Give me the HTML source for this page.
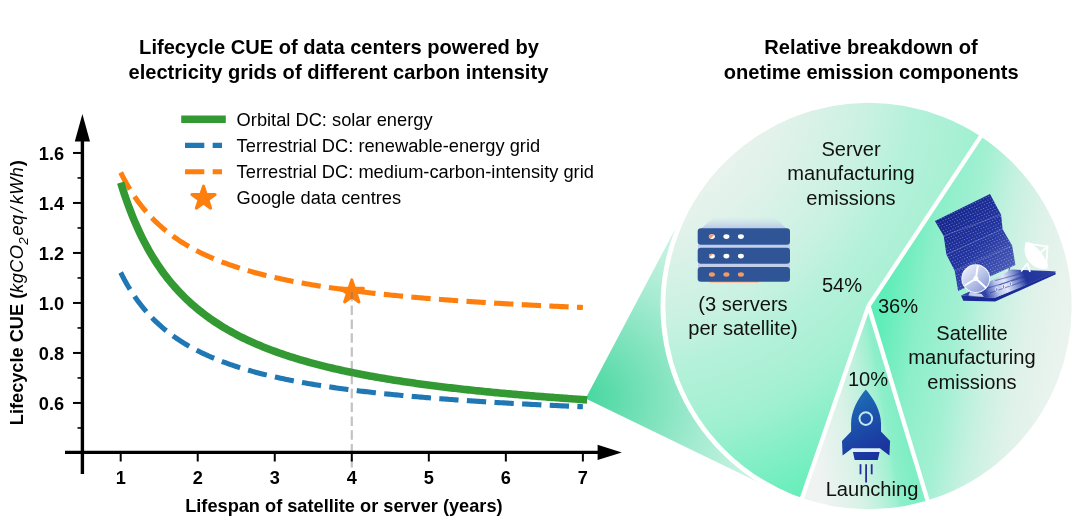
<!DOCTYPE html>
<html><head><meta charset="utf-8">
<style>
html,body{margin:0;padding:0;background:#fff;}
body{width:1080px;height:522px;overflow:hidden;}
svg{display:block;will-change:transform;}
text{font-family:"Liberation Sans",sans-serif;fill:#000;}
.tk{font-size:18.2px;font-weight:bold;}
.ttl{font-size:20.1px;font-weight:bold;}
.lg{font-size:18.27px;}
.pl{font-size:20.1px;fill:#111;}
</style></head><body>
<svg width="1080" height="522" viewBox="0 0 1080 522">
<defs>
<radialGradient id="gServer" gradientUnits="userSpaceOnUse" cx="620" cy="75" r="480">
<stop offset="0.208" stop-color="#f0f3f1"/><stop offset="0.352" stop-color="#e1f2eb"/><stop offset="0.525" stop-color="#c9f1e2"/><stop offset="0.615" stop-color="#b5f1da"/><stop offset="0.72" stop-color="#a7f0d4"/><stop offset="0.7625" stop-color="#9ef0d1"/><stop offset="0.94" stop-color="#6aeebc"/><stop offset="1" stop-color="#5eedb8"/></radialGradient>
<linearGradient id="gSat" gradientUnits="userSpaceOnUse" x1="868.5" y1="306" x2="1071" y2="341.8">
<stop offset="0" stop-color="#5aedb7"/><stop offset="0.08" stop-color="#61edb9"/><stop offset="0.25" stop-color="#8befc9"/><stop offset="0.44" stop-color="#a3f0d3"/><stop offset="0.6" stop-color="#c6f1e1"/><stop offset="0.77" stop-color="#dff2ea"/><stop offset="0.92" stop-color="#e8f3ee"/><stop offset="1" stop-color="#edf3f0"/></linearGradient>
<linearGradient id="gLaunch" gradientUnits="userSpaceOnUse" x1="915" y1="495" x2="801.8" y2="515.4">
<stop offset="0" stop-color="#80eec5"/><stop offset="0.13" stop-color="#8defca"/><stop offset="0.175" stop-color="#9ff0d1"/><stop offset="0.305" stop-color="#bdf1dd"/><stop offset="0.48" stop-color="#d9f2e8"/><stop offset="0.78" stop-color="#eff3f1"/><stop offset="1" stop-color="#f1f3f1"/></linearGradient>
<radialGradient id="gCone" gradientUnits="userSpaceOnUse" cx="585.6" cy="398.6" r="236">
<stop offset="0" stop-color="#47d79f"/><stop offset="0.5" stop-color="#a4ebd1"/><stop offset="1" stop-color="#eef9f4"/></radialGradient>
<linearGradient id="gRocket" gradientUnits="userSpaceOnUse" x1="850" y1="395" x2="885" y2="460">
<stop offset="0" stop-color="#1d70b6"/><stop offset="0.5" stop-color="#1b4ba8"/><stop offset="1" stop-color="#1b2a9c"/></linearGradient>
</defs>
<rect width="1080" height="522" fill="#fff"/>

<!-- cone -->
<polygon points="585.6,398.6 684.9,210.7 778.5,492.1" fill="url(#gCone)"/>

<!-- pie -->
<path d="M868.50,306.00 L981.98,134.55 A205.60,205.60 0 1 0 801.22,500.28 Z" fill="url(#gServer)"/>
<path d="M868.50,306.00 L928.27,502.72 A205.60,205.60 0 0 0 981.98,134.55 Z" fill="url(#gSat)"/>
<path d="M868.50,306.00 L801.22,500.28 A205.60,205.60 0 0 0 928.27,502.72 Z" fill="url(#gLaunch)"/>
<g stroke="#fff" stroke-width="4.3" stroke-linecap="butt">
<line x1="868.5" y1="306.0" x2="983.08" y2="132.89"/>
<line x1="868.5" y1="306.0" x2="800.57" y2="502.17"/>
<line x1="868.5" y1="306.0" x2="928.85" y2="504.63"/>
</g>
<circle cx="868.5" cy="306.0" r="205.6" fill="none" stroke="#fff" stroke-width="4.8"/>

<!-- titles -->
<text x="339" y="54.4" text-anchor="middle" class="ttl">Lifecycle CUE of data centers powered by</text>
<text x="338.4" y="78.7" text-anchor="middle" class="ttl">electricity grids of different carbon intensity</text>
<text x="871" y="54.4" text-anchor="middle" class="ttl">Relative breakdown of</text>
<text x="871.2" y="78.8" text-anchor="middle" class="ttl">onetime emission components</text>

<!-- dashed guide -->
<!-- curves -->
<path d="M120.70,272.50 L122.63,276.32 L124.55,279.96 L126.48,283.43 L128.40,286.74 L130.33,289.90 L132.25,292.93 L134.18,295.83 L136.11,298.60 L138.03,301.27 L139.96,303.83 L141.88,306.28 L143.81,308.64 L145.73,310.92 L147.66,313.11 L149.59,315.22 L151.51,317.25 L153.44,319.21 L155.36,321.11 L157.29,322.94 L159.22,324.71 L161.14,326.42 L163.07,328.08 L164.99,329.68 L166.92,331.23 L168.84,332.74 L170.77,334.20 L172.70,335.62 L174.62,336.99 L176.55,338.33 L178.47,339.62 L180.40,340.89 L182.32,342.11 L184.25,343.30 L186.18,344.46 L188.10,345.59 L190.03,346.69 L191.95,347.76 L193.88,348.80 L195.80,349.82 L197.73,350.81 L199.66,351.78 L201.58,352.72 L203.51,353.64 L205.43,354.54 L207.36,355.42 L209.28,356.28 L211.21,357.11 L213.14,357.93 L215.06,358.73 L216.99,359.51 L218.91,360.28 L220.84,361.03 L222.76,361.76 L224.69,362.48 L226.62,363.18 L228.54,363.86 L230.47,364.54 L232.39,365.20 L234.32,365.84 L236.25,366.48 L238.17,367.10 L240.10,367.70 L242.02,368.30 L243.95,368.88 L245.87,369.46 L247.80,370.02 L249.73,370.57 L251.65,371.12 L253.58,371.65 L255.50,372.17 L257.43,372.68 L259.35,373.19 L261.28,373.68 L263.21,374.17 L265.13,374.65 L267.06,375.12 L268.98,375.58 L270.91,376.03 L272.83,376.48 L274.76,376.92 L276.69,377.35 L278.61,377.77 L280.54,378.19 L282.46,378.60 L284.39,379.00 L286.31,379.40 L288.24,379.79 L290.17,380.18 L292.09,380.56 L294.02,380.93 L295.94,381.30 L297.87,381.66 L299.79,382.02 L301.72,382.37 L303.65,382.72 L305.57,383.06 L307.50,383.40 L309.42,383.73 L311.35,384.05 L313.27,384.38 L315.20,384.69 L317.13,385.01 L319.05,385.31 L320.98,385.62 L322.90,385.92 L324.83,386.21 L326.76,386.51 L328.68,386.79 L330.61,387.08 L332.53,387.36 L334.46,387.63 L336.38,387.91 L338.31,388.18 L340.24,388.44 L342.16,388.71 L344.09,388.96 L346.01,389.22 L347.94,389.47 L349.86,389.72 L351.79,389.97 L353.72,390.21 L355.64,390.45 L357.57,390.69 L359.49,390.92 L361.42,391.16 L363.34,391.38 L365.27,391.61 L367.20,391.83 L369.12,392.05 L371.05,392.27 L372.97,392.49 L374.90,392.70 L376.82,392.91 L378.75,393.12 L380.68,393.33 L382.60,393.53 L384.53,393.73 L386.45,393.93 L388.38,394.12 L390.31,394.32 L392.23,394.51 L394.16,394.70 L396.08,394.89 L398.01,395.08 L399.93,395.26 L401.86,395.44 L403.79,395.62 L405.71,395.80 L407.64,395.98 L409.56,396.15 L411.49,396.32 L413.41,396.49 L415.34,396.66 L417.27,396.83 L419.19,397.00 L421.12,397.16 L423.04,397.32 L424.97,397.48 L426.89,397.64 L428.82,397.80 L430.75,397.96 L432.67,398.11 L434.60,398.26 L436.52,398.41 L438.45,398.56 L440.37,398.71 L442.30,398.86 L444.23,399.00 L446.15,399.15 L448.08,399.29 L450.00,399.43 L451.93,399.57 L453.85,399.71 L455.78,399.85 L457.71,399.99 L459.63,400.12 L461.56,400.25 L463.48,400.39 L465.41,400.52 L467.33,400.65 L469.26,400.78 L471.19,400.90 L473.11,401.03 L475.04,401.16 L476.96,401.28 L478.89,401.40 L480.82,401.53 L482.74,401.65 L484.67,401.77 L486.59,401.89 L488.52,402.00 L490.44,402.12 L492.37,402.24 L494.30,402.35 L496.22,402.47 L498.15,402.58 L500.07,402.69 L502.00,402.80 L503.92,402.91 L505.85,403.02 L507.78,403.13 L509.70,403.24 L511.63,403.34 L513.55,403.45 L515.48,403.55 L517.40,403.66 L519.33,403.76 L521.26,403.86 L523.18,403.96 L525.11,404.07 L527.03,404.16 L528.96,404.26 L530.88,404.36 L532.81,404.46 L534.74,404.56 L536.66,404.65 L538.59,404.75 L540.51,404.84 L542.44,404.94 L544.37,405.03 L546.29,405.12 L548.22,405.21 L550.14,405.30 L552.07,405.39 L553.99,405.48 L555.92,405.57 L557.85,405.66 L559.77,405.75 L561.70,405.84 L563.62,405.92 L565.55,406.01 L567.47,406.09 L569.40,406.18 L571.33,406.26 L573.25,406.34 L575.18,406.43 L577.10,406.51 L579.03,406.59 L580.95,406.67 L582.88,406.75" fill="none" stroke="#1f77b4" stroke-width="5.1" stroke-dasharray="19.3,8.36"/>
<path d="M120.70,172.50 L122.63,176.34 L124.55,180.00 L126.48,183.49 L128.40,186.82 L130.33,190.00 L132.25,193.04 L134.18,195.96 L136.11,198.75 L138.03,201.43 L139.96,204.00 L141.88,206.47 L143.81,208.85 L145.73,211.13 L147.66,213.33 L149.59,215.45 L151.51,217.50 L153.44,219.47 L155.36,221.38 L157.29,223.22 L159.22,225.00 L161.14,226.72 L163.07,228.39 L164.99,230.00 L166.92,231.56 L168.84,233.08 L170.77,234.55 L172.70,235.97 L174.62,237.35 L176.55,238.70 L178.47,240.00 L180.40,241.27 L182.32,242.50 L184.25,243.70 L186.18,244.86 L188.10,246.00 L190.03,247.11 L191.95,248.18 L193.88,249.23 L195.80,250.25 L197.73,251.25 L199.66,252.22 L201.58,253.17 L203.51,254.10 L205.43,255.00 L207.36,255.88 L209.28,256.74 L211.21,257.59 L213.14,258.41 L215.06,259.21 L216.99,260.00 L218.91,260.77 L220.84,261.52 L222.76,262.26 L224.69,262.98 L226.62,263.68 L228.54,264.38 L230.47,265.05 L232.39,265.71 L234.32,266.36 L236.25,267.00 L238.17,267.62 L240.10,268.24 L242.02,268.83 L243.95,269.42 L245.87,270.00 L247.80,270.57 L249.73,271.12 L251.65,271.67 L253.58,272.20 L255.50,272.73 L257.43,273.24 L259.35,273.75 L261.28,274.25 L263.21,274.74 L265.13,275.22 L267.06,275.69 L268.98,276.15 L270.91,276.61 L272.83,277.06 L274.76,277.50 L276.69,277.93 L278.61,278.36 L280.54,278.78 L282.46,279.19 L284.39,279.60 L286.31,280.00 L288.24,280.39 L290.17,280.78 L292.09,281.16 L294.02,281.54 L295.94,281.91 L297.87,282.27 L299.79,282.63 L301.72,282.99 L303.65,283.33 L305.57,283.68 L307.50,284.01 L309.42,284.35 L311.35,284.68 L313.27,285.00 L315.20,285.32 L317.13,285.63 L319.05,285.94 L320.98,286.25 L322.90,286.55 L324.83,286.85 L326.76,287.14 L328.68,287.43 L330.61,287.72 L332.53,288.00 L334.46,288.28 L336.38,288.55 L338.31,288.82 L340.24,289.09 L342.16,289.35 L344.09,289.62 L346.01,289.87 L347.94,290.13 L349.86,290.38 L351.79,290.62 L353.72,290.87 L355.64,291.11 L357.57,291.35 L359.49,291.59 L361.42,291.82 L363.34,292.05 L365.27,292.28 L367.20,292.50 L369.12,292.72 L371.05,292.94 L372.97,293.16 L374.90,293.37 L376.82,293.58 L378.75,293.79 L380.68,294.00 L382.60,294.20 L384.53,294.41 L386.45,294.61 L388.38,294.80 L390.31,295.00 L392.23,295.19 L394.16,295.38 L396.08,295.57 L398.01,295.76 L399.93,295.95 L401.86,296.13 L403.79,296.31 L405.71,296.49 L407.64,296.67 L409.56,296.84 L411.49,297.02 L413.41,297.19 L415.34,297.36 L417.27,297.53 L419.19,297.69 L421.12,297.86 L423.04,298.02 L424.97,298.18 L426.89,298.34 L428.82,298.50 L430.75,298.66 L432.67,298.81 L434.60,298.97 L436.52,299.12 L438.45,299.27 L440.37,299.42 L442.30,299.57 L444.23,299.71 L446.15,299.86 L448.08,300.00 L450.00,300.14 L451.93,300.28 L453.85,300.42 L455.78,300.56 L457.71,300.70 L459.63,300.83 L461.56,300.97 L463.48,301.10 L465.41,301.23 L467.33,301.36 L469.26,301.49 L471.19,301.62 L473.11,301.75 L475.04,301.88 L476.96,302.00 L478.89,302.12 L480.82,302.25 L482.74,302.37 L484.67,302.49 L486.59,302.61 L488.52,302.73 L490.44,302.84 L492.37,302.96 L494.30,303.08 L496.22,303.19 L498.15,303.31 L500.07,303.42 L502.00,303.53 L503.92,303.64 L505.85,303.75 L507.78,303.86 L509.70,303.97 L511.63,304.07 L513.55,304.18 L515.48,304.29 L517.40,304.39 L519.33,304.49 L521.26,304.60 L523.18,304.70 L525.11,304.80 L527.03,304.90 L528.96,305.00 L530.88,305.10 L532.81,305.20 L534.74,305.29 L536.66,305.39 L538.59,305.49 L540.51,305.58 L542.44,305.68 L544.37,305.77 L546.29,305.86 L548.22,305.95 L550.14,306.05 L552.07,306.14 L553.99,306.23 L555.92,306.32 L557.85,306.40 L559.77,306.49 L561.70,306.58 L563.62,306.67 L565.55,306.75 L567.47,306.84 L569.40,306.92 L571.33,307.01 L573.25,307.09 L575.18,307.17 L577.10,307.26 L579.03,307.34 L580.95,307.42 L582.88,307.50" fill="none" stroke="#ff7f0e" stroke-width="5.1" stroke-dasharray="19.3,8.36"/>
<path d="M120.70,182.58 L122.64,188.81 L124.59,194.74 L126.53,200.39 L128.47,205.78 L130.42,210.93 L132.36,215.86 L134.30,220.58 L136.25,225.09 L138.19,229.42 L140.13,233.58 L142.08,237.57 L144.02,241.41 L145.96,245.10 L147.91,248.66 L149.85,252.08 L151.79,255.38 L153.74,258.57 L155.68,261.64 L157.62,264.61 L159.57,267.48 L161.51,270.26 L163.45,272.94 L165.40,275.54 L167.34,278.06 L169.29,280.50 L171.23,282.86 L173.17,285.16 L175.12,287.38 L177.06,289.55 L179.00,291.64 L180.95,293.68 L182.89,295.67 L184.83,297.60 L186.78,299.47 L188.72,301.30 L190.66,303.08 L192.61,304.81 L194.55,306.49 L196.49,308.14 L198.44,309.74 L200.38,311.30 L202.32,312.83 L204.27,314.31 L206.21,315.77 L208.15,317.18 L210.10,318.57 L212.04,319.92 L213.98,321.24 L215.93,322.53 L217.87,323.80 L219.81,325.03 L221.76,326.24 L223.70,327.42 L225.64,328.58 L227.59,329.71 L229.53,330.82 L231.47,331.91 L233.42,332.97 L235.36,334.01 L237.30,335.03 L239.25,336.03 L241.19,337.02 L243.13,337.98 L245.08,338.92 L247.02,339.85 L248.96,340.75 L250.91,341.65 L252.85,342.52 L254.79,343.38 L256.74,344.22 L258.68,345.05 L260.62,345.86 L262.57,346.66 L264.51,347.44 L266.46,348.21 L268.40,348.97 L270.34,349.71 L272.29,350.44 L274.23,351.16 L276.17,351.87 L278.12,352.57 L280.06,353.25 L282.00,353.92 L283.95,354.58 L285.89,355.24 L287.83,355.88 L289.78,356.51 L291.72,357.13 L293.66,357.74 L295.61,358.34 L297.55,358.93 L299.49,359.52 L301.44,360.09 L303.38,360.66 L305.32,361.22 L307.27,361.77 L309.21,362.31 L311.15,362.84 L313.10,363.37 L315.04,363.88 L316.98,364.40 L318.93,364.90 L320.87,365.40 L322.81,365.89 L324.76,366.37 L326.70,366.85 L328.64,367.32 L330.59,367.78 L332.53,368.24 L334.47,368.69 L336.42,369.13 L338.36,369.57 L340.30,370.01 L342.25,370.43 L344.19,370.86 L346.13,371.27 L348.08,371.68 L350.02,372.09 L351.96,372.49 L353.91,372.89 L355.85,373.28 L357.80,373.67 L359.74,374.05 L361.68,374.43 L363.63,374.80 L365.57,375.17 L367.51,375.53 L369.46,375.89 L371.40,376.24 L373.34,376.59 L375.29,376.94 L377.23,377.28 L379.17,377.62 L381.12,377.96 L383.06,378.29 L385.00,378.61 L386.95,378.94 L388.89,379.26 L390.83,379.57 L392.78,379.89 L394.72,380.20 L396.66,380.50 L398.61,380.80 L400.55,381.10 L402.49,381.40 L404.44,381.69 L406.38,381.98 L408.32,382.27 L410.27,382.55 L412.21,382.83 L414.15,383.11 L416.10,383.39 L418.04,383.66 L419.98,383.93 L421.93,384.19 L423.87,384.46 L425.81,384.72 L427.76,384.97 L429.70,385.23 L431.64,385.48 L433.59,385.73 L435.53,385.98 L437.47,386.23 L439.42,386.47 L441.36,386.71 L443.30,386.95 L445.25,387.19 L447.19,387.42 L449.14,387.65 L451.08,387.88 L453.02,388.11 L454.97,388.33 L456.91,388.56 L458.85,388.78 L460.80,389.00 L462.74,389.21 L464.68,389.43 L466.63,389.64 L468.57,389.85 L470.51,390.06 L472.46,390.27 L474.40,390.47 L476.34,390.68 L478.29,390.88 L480.23,391.08 L482.17,391.28 L484.12,391.47 L486.06,391.67 L488.00,391.86 L489.95,392.05 L491.89,392.24 L493.83,392.43 L495.78,392.61 L497.72,392.80 L499.66,392.98 L501.61,393.16 L503.55,393.34 L505.49,393.52 L507.44,393.70 L509.38,393.87 L511.32,394.05 L513.27,394.22 L515.21,394.39 L517.15,394.56 L519.10,394.73 L521.04,394.90 L522.98,395.06 L524.93,395.23 L526.87,395.39 L528.81,395.55 L530.76,395.71 L532.70,395.87 L534.64,396.03 L536.59,396.19 L538.53,396.34 L540.47,396.50 L542.42,396.65 L544.36,396.80 L546.31,396.95 L548.25,397.10 L550.19,397.25 L552.14,397.40 L554.08,397.54 L556.02,397.69 L557.97,397.83 L559.91,397.97 L561.85,398.11 L563.80,398.26 L565.74,398.39 L567.68,398.53 L569.63,398.67 L571.57,398.81 L573.51,398.94 L575.46,399.08 L577.40,399.21 L579.34,399.34 L581.29,399.47 L583.23,399.61 L585.17,399.74 L587.12,399.86" fill="none" stroke="#339a33" stroke-width="7.6" stroke-linecap="butt"/>
<polygon points="351.79,279.90 354.53,288.33 363.39,288.33 356.22,293.54 358.96,301.97 351.79,296.76 344.62,301.97 347.36,293.54 340.19,288.33 349.05,288.33" fill="#ff7f0e" stroke="#ff7f0e" stroke-width="3" stroke-linejoin="round"/>


<line x1="351.79" y1="291.75" x2="351.79" y2="467.4" stroke="#7a7a7a" stroke-opacity="0.45" stroke-width="2.2" stroke-dasharray="9.5,4.35"/>
<!-- axes -->
<line x1="82.4" y1="474" x2="82.4" y2="140" stroke="#000" stroke-width="3.4"/>
<polygon points="74.8,141.4 90.0,141.4 82.4,114" fill="#000"/>
<line x1="65" y1="452.4" x2="599" y2="452.4" stroke="#000" stroke-width="3.4"/>
<polygon points="597.6,444.7 597.6,460.1 621.8,452.4" fill="#000"/>
<line x1="73" y1="402.95" x2="82" y2="402.95" stroke="#000" stroke-width="2"/>
<text x="64.1" y="409.55" text-anchor="end" class="tk">0.6</text>
<line x1="73" y1="352.95" x2="82" y2="352.95" stroke="#000" stroke-width="2"/>
<text x="64.1" y="359.55" text-anchor="end" class="tk">0.8</text>
<line x1="73" y1="302.95" x2="82" y2="302.95" stroke="#000" stroke-width="2"/>
<text x="64.1" y="309.55" text-anchor="end" class="tk">1.0</text>
<line x1="73" y1="252.95" x2="82" y2="252.95" stroke="#000" stroke-width="2"/>
<text x="64.1" y="259.55" text-anchor="end" class="tk">1.2</text>
<line x1="73" y1="202.95" x2="82" y2="202.95" stroke="#000" stroke-width="2"/>
<text x="64.1" y="209.55" text-anchor="end" class="tk">1.4</text>
<line x1="73" y1="152.95" x2="82" y2="152.95" stroke="#000" stroke-width="2"/>
<text x="64.1" y="159.55" text-anchor="end" class="tk">1.6</text>
<line x1="77.5" y1="427.95" x2="82" y2="427.95" stroke="#000" stroke-width="1.6"/>
<line x1="77.5" y1="377.95" x2="82" y2="377.95" stroke="#000" stroke-width="1.6"/>
<line x1="77.5" y1="327.95" x2="82" y2="327.95" stroke="#000" stroke-width="1.6"/>
<line x1="77.5" y1="277.95" x2="82" y2="277.95" stroke="#000" stroke-width="1.6"/>
<line x1="77.5" y1="227.95" x2="82" y2="227.95" stroke="#000" stroke-width="1.6"/>
<line x1="77.5" y1="177.95" x2="82" y2="177.95" stroke="#000" stroke-width="1.6"/>

<line x1="120.70" y1="453" x2="120.70" y2="461.5" stroke="#000" stroke-width="2"/>
<text x="120.70" y="484.3" text-anchor="middle" class="tk">1</text>
<line x1="197.73" y1="453" x2="197.73" y2="461.5" stroke="#000" stroke-width="2"/>
<text x="197.73" y="484.3" text-anchor="middle" class="tk">2</text>
<line x1="274.76" y1="453" x2="274.76" y2="461.5" stroke="#000" stroke-width="2"/>
<text x="274.76" y="484.3" text-anchor="middle" class="tk">3</text>
<line x1="351.79" y1="453" x2="351.79" y2="461.5" stroke="#000" stroke-width="2"/>
<text x="351.79" y="484.3" text-anchor="middle" class="tk">4</text>
<line x1="428.82" y1="453" x2="428.82" y2="461.5" stroke="#000" stroke-width="2"/>
<text x="428.82" y="484.3" text-anchor="middle" class="tk">5</text>
<line x1="505.85" y1="453" x2="505.85" y2="461.5" stroke="#000" stroke-width="2"/>
<text x="505.85" y="484.3" text-anchor="middle" class="tk">6</text>
<line x1="582.88" y1="453" x2="582.88" y2="461.5" stroke="#000" stroke-width="2"/>
<text x="582.88" y="484.3" text-anchor="middle" class="tk">7</text>

<text x="343.9" y="511.5" text-anchor="middle" style="font-size:18.2px;font-weight:bold">Lifespan of satellite or server (years)</text>
<text transform="translate(23.3,425.2) rotate(-90)" style="font-size:18.2px"><tspan font-weight="bold">Lifecycle CUE (</tspan><tspan font-style="italic" letter-spacing="0.36">kgCO<tspan dy="4.8" font-size="13.5px">2</tspan><tspan dy="-4.8" dx="1.4">eq</tspan><tspan dx="2">/</tspan><tspan dx="3">kWh</tspan></tspan><tspan font-weight="bold" dx="0.5">)</tspan></text>

<!-- legend -->
<line x1="185" y1="119.2" x2="222" y2="119.2" stroke="#339a33" stroke-width="7.6" stroke-linecap="square"/>
<line x1="185" y1="145.4" x2="222" y2="145.4" stroke="#1f77b4" stroke-width="5.1" stroke-dasharray="19.3,8.36"/>
<line x1="185" y1="171.8" x2="222" y2="171.8" stroke="#ff7f0e" stroke-width="5.1" stroke-dasharray="19.3,8.36"/>
<polygon points="203.50,186.10 206.24,194.53 215.10,194.53 207.93,199.74 210.67,208.17 203.50,202.96 196.33,208.17 199.07,199.74 191.90,194.53 200.76,194.53" fill="#ff7f0e" stroke="#ff7f0e" stroke-width="3" stroke-linejoin="round"/>
<text x="236.6" y="125.5" class="lg">Orbital DC: solar energy</text>
<text x="236.6" y="151.8" class="lg">Terrestrial DC: renewable-energy grid</text>
<text x="236.6" y="178.0" class="lg">Terrestrial DC: medium-carbon-intensity grid</text>
<text x="236.6" y="204.2" class="lg">Google data centres</text>

<!-- pie labels -->
<text x="851" y="155.5" text-anchor="middle" class="pl">Server</text>
<text x="851" y="180" text-anchor="middle" class="pl">manufacturing</text>
<text x="851" y="204.5" text-anchor="middle" class="pl">emissions</text>
<text x="743" y="311" text-anchor="middle" class="pl">(3 servers</text>
<text x="743" y="335" text-anchor="middle" class="pl">per satellite)</text>
<text x="842" y="292" text-anchor="middle" class="pl">54%</text>
<text x="898" y="313" text-anchor="middle" class="pl">36%</text>
<text x="868" y="386" text-anchor="middle" class="pl">10%</text>
<text x="972" y="340" text-anchor="middle" class="pl">Satellite</text>
<text x="972" y="364" text-anchor="middle" class="pl">manufacturing</text>
<text x="972" y="388.5" text-anchor="middle" class="pl">emissions</text>
<text x="872" y="495.5" text-anchor="middle" class="pl">Launching</text>


<g id="serverIcon">
<linearGradient id="gSrvTop" x1="0" y1="0" x2="0" y2="1"><stop offset="0.25" stop-color="#c8d4ee" stop-opacity="0"/><stop offset="1" stop-color="#b4c4e6" stop-opacity="0.95"/></linearGradient>
<polygon points="719,213 770,213 787,229 700.5,229" fill="url(#gSrvTop)"/>
<rect x="698" y="244" width="92" height="5" fill="#c3cfea"/>
<rect x="698" y="262" width="92" height="6" fill="#c3cfea"/>
<rect x="709" y="280" width="50" height="3" rx="1.5" fill="#f7c6a3"/>
<rect x="697.7" y="228.3" width="92.3" height="16.5" rx="3.2" fill="#2f5597"/>
<rect x="697.7" y="247.8" width="92.3" height="16" rx="3.2" fill="#2f5597"/>
<rect x="697.7" y="267" width="92.3" height="14.8" rx="3.2" fill="#2f5597"/>
<g fill="#fff">
<ellipse cx="726.4" cy="236.6" rx="3" ry="2.3"/><ellipse cx="740.9" cy="236.6" rx="3" ry="2.3"/>
<ellipse cx="726.4" cy="256.1" rx="3" ry="2.3"/><ellipse cx="740.9" cy="256.1" rx="3" ry="2.3"/>
<ellipse cx="711.9" cy="236.6" rx="3" ry="2.3"/><ellipse cx="711.9" cy="256.1" rx="3" ry="2.3"/>
</g>
<g fill="#f79a5e">
<path d="M708.9,236.6 a3,2.3 0 0 1 5.2,-1.6 l-3.4,3.6 a3,2.3 0 0 1 -1.8,-2z"/>
<path d="M708.9,256.1 a3,2.3 0 0 1 4.2,-2.1 l-3.6,3.2 a3,2.3 0 0 1 -0.6,-1.1z"/>
<ellipse cx="711.9" cy="274.5" rx="3" ry="2.2"/><ellipse cx="726.4" cy="274.5" rx="3" ry="2.2"/><ellipse cx="740.9" cy="274.5" rx="3" ry="2.2"/>
</g>
</g>

<g id="rocket">
<path d="M865.8,389.5 C857.8,398.5 851.1,411.6 851.1,423.2 L851.1,431.6 L842.0,441.1 L842.6,455.4 L851.9,448.5 L880.2,448.5 L889.4,455.4 L890.1,441.1 L881.0,431.6 L881.0,423.2 C881.0,411.6 873.8,398.5 865.8,389.5 Z" fill="url(#gRocket)"/>
<polygon points="851.9,448.5 880.2,448.5 880.2,451.9 851.9,451.9" fill="#e4eef8"/>
<polygon points="852.9,451.9 879.6,451.9 877.8,460 854.7,460" fill="url(#gRocket)"/>
<circle cx="865.8" cy="418.6" r="6.3" fill="none" stroke="#c8e6f0" stroke-width="2"/>
<g stroke="#2a2c9c" stroke-width="1.8">
<line x1="860.5" y1="464.2" x2="860.5" y2="474.3"/>
<line x1="866.1" y1="464.2" x2="866.1" y2="482.6"/>
<line x1="871.7" y1="464.2" x2="871.7" y2="474.3"/>
</g>
</g>

<g id="satellite">
<pattern id="dots" width="2.9" height="2.9" patternUnits="userSpaceOnUse" patternTransform="rotate(-25 934 221) skewX(12)"><circle cx="1.45" cy="1.45" r="0.45" fill="#ffffff" fill-opacity="0.8"/></pattern>
<linearGradient id="gPanel" gradientUnits="userSpaceOnUse" x1="938" y1="212" x2="1012" y2="282"><stop offset="0" stop-color="#14248c"/><stop offset="0.5" stop-color="#2234a0"/><stop offset="0.8" stop-color="#3f52b2"/><stop offset="1" stop-color="#5567be"/></linearGradient>
<linearGradient id="gPlatTop" gradientUnits="userSpaceOnUse" x1="985" y1="292" x2="1050" y2="268"><stop offset="0" stop-color="#3043a6"/><stop offset="0.18" stop-color="#b9c3ea"/><stop offset="0.32" stop-color="#e3e8f7"/><stop offset="0.48" stop-color="#7d8dcf"/><stop offset="0.62" stop-color="#22359c"/><stop offset="1" stop-color="#2c3fa4"/></linearGradient>
<linearGradient id="gDish" gradientUnits="userSpaceOnUse" x1="965.8" y1="267.6" x2="985.8" y2="289.6"><stop offset="0" stop-color="#e9edfa"/><stop offset="0.5" stop-color="#bcc7ea"/><stop offset="1" stop-color="#8a9bd6"/></linearGradient>
<g stroke="#5f72c0" stroke-width="1.2"><line x1="1010.3" y1="264.8" x2="1008.9" y2="270.9"/></g>
<polygon points="961.0,295.6 994.6,297.8 1055.3,272.5 1055.8,274.2 995.2,301.6 963.3,300.7" fill="#1b2b96"/>
<polygon points="1011.3,269.6 1048.9,270.9 1055.8,271.5 1054.9,273.2 994.6,298.0 961.0,295.6 981.8,286.0" fill="url(#gPlatTop)"/>
<g stroke="#23369c" stroke-width="0.7" stroke-opacity="0.8" fill="none">
<line x1="985.8" y1="288.6" x2="1040.8" y2="272.3"/><line x1="990.1" y1="292.9" x2="1047.5" y2="273.1"/><line x1="995.2" y1="280.6" x2="1030.1" y2="270.9"/><line x1="999.3" y1="284.9" x2="1035.5" y2="271.5"/>
</g>
<g stroke="#fff" stroke-width="0.8" fill="#3a4cab" fill-opacity="0.5">
<ellipse cx="996.8" cy="289.3" rx="1.2" ry="2.1" /><ellipse cx="1003.5" cy="286.6" rx="1.2" ry="2.1" /><ellipse cx="1010.3" cy="283.9" rx="1.2" ry="2.1" />
</g>
<polygon points="934.9,220.9 990.0,194.0 1001.1,214.7 1002.6,229.2 1012.1,245.6 1015.4,265.0 958.1,291.0 954.8,271.1 946.4,254.4 943.7,235.9" fill="url(#gPanel)"/>
<polygon points="934.9,220.9 990.0,194.0 1001.1,214.7 1002.6,229.2 1012.1,245.6 1015.4,265.0 958.1,291.0 954.8,271.1 946.4,254.4 943.7,235.9" fill="url(#dots)"/>
<line x1="943.7" y1="235.9" x2="1001.1" y2="214.7" stroke="#9aa7dc" stroke-width="0.6" stroke-opacity="0.6"/><line x1="946.4" y1="254.4" x2="1002.6" y2="229.2" stroke="#9aa7dc" stroke-width="0.6" stroke-opacity="0.6"/><line x1="954.8" y1="271.1" x2="1012.1" y2="245.6" stroke="#9aa7dc" stroke-width="0.6" stroke-opacity="0.6"/>
<polygon points="970.0,292.0 981.8,294.0 983.8,297.0 968.4,295.6" fill="#c3cdec"/>
<circle cx="975.8" cy="278.6" r="13.9" fill="url(#gDish)" stroke="#f1f3fc" stroke-width="1.1"/>
<g stroke="#fff" stroke-width="2" stroke-linecap="round">
<line x1="975.8" y1="278.6" x2="977.8" y2="265.8"/><line x1="975.8" y1="278.6" x2="965.5" y2="285.0"/><line x1="975.8" y1="278.6" x2="985.6" y2="287.6"/>
</g>
<circle cx="975.8" cy="278.6" r="2.5" fill="#fff"/>
<!-- small antenna -->
<path d="M1025.8,242.8 A19.5,19.5 0 0 0 1046.5,268.8 Z" fill="#fff"/>
<ellipse cx="1037.1" cy="255.1" rx="16.4" ry="4.6" transform="rotate(51.7 1037.1 255.1)" fill="#fff"/>
<g stroke="#fff" stroke-width="1.7" fill="none" stroke-linecap="round" stroke-linejoin="round">
<polyline points="1026.1,243.3 1047.5,246.5 1046.2,268.5"/>
<line x1="1047.5" y1="246.5" x2="1035.5" y2="257.1"/>
<polyline points="1021.6,270.7 1027.4,263.4 1029.8,271.2" stroke-width="1.8"/>
</g>
</g>

</svg>
</body></html>
